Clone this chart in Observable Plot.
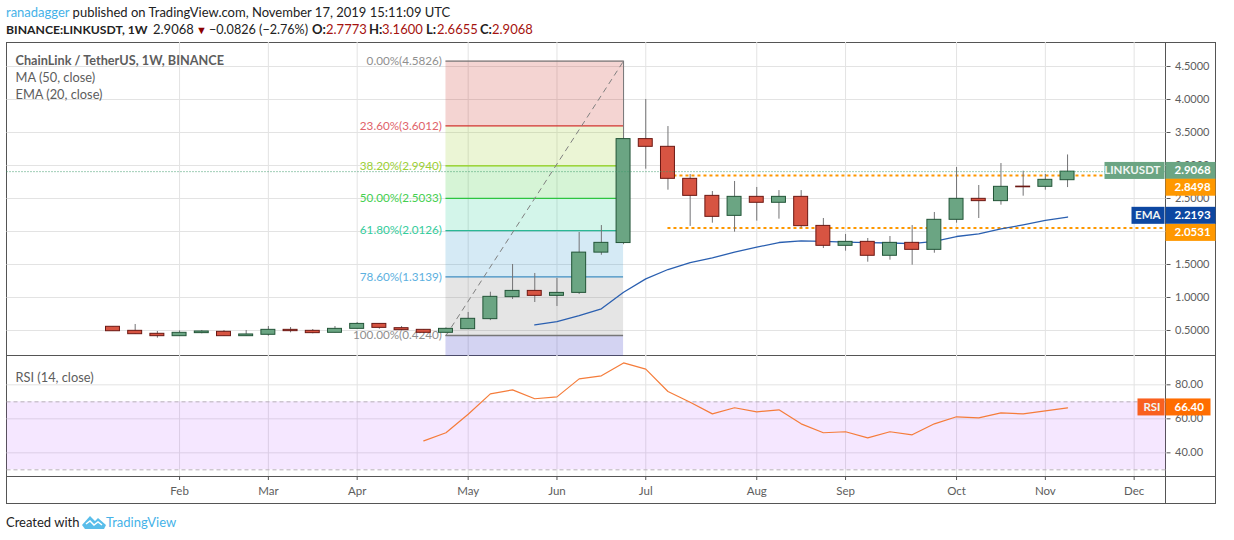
<!DOCTYPE html>
<html>
<head>
<meta charset="utf-8">
<script src="https://cdn.jsdelivr.net/npm/d3@7"></script>
<script src="https://cdn.jsdelivr.net/npm/@observablehq/plot@0.6"></script>
<style>
  html, body { margin: 0; padding: 0; background: #fff; width: 1234px; height: 540px; overflow: hidden; font-family: Lato, sans-serif; }
  #root { position: relative; width: 1234px; height: 540px; }
  .abs { position: absolute; white-space: nowrap; }
  .line { position: absolute; background: #555; }
  svg { background: transparent !important; }
  .hd { font-size: 13px; color: #222; line-height: 17px; }
  .hd2 { position: absolute; top: 21px; font-size: 13px; color: #222; line-height: 17px; white-space: nowrap; }
  .r { color: #a5120e; }
</style>
</head>
<body>
<div id="root">
  <div class="abs hd" style="left:6px;top:4px"><span style="color:#45b2e8">ranadagger</span> published on TradingView.com, November 17, 2019 15:11:09 UTC</div>
  <b class="hd2" style="left:6px;font-size:12.2px">BINANCE:LINKUSDT, 1W</b>
  <span class="hd2" style="left:153px">2.9068</span>
  <span class="hd2" style="left:196px;color:#8b0000;font-size:11px">▼</span>
  <span class="hd2" style="left:209px;font-size:12.6px">−0.0826 (−2.76%)</span>
  <b class="hd2" style="left:312px">O:</b><span class="hd2 r" style="left:326px">2.7773</span>
  <b class="hd2" style="left:369px">H:</b><span class="hd2 r" style="left:382px">3.1600</span>
  <b class="hd2" style="left:426px">L:</b><span class="hd2 r" style="left:437px">2.6655</span>
  <b class="hd2" style="left:480px">C:</b><span class="hd2 r" style="left:492px">2.9068</span>
  <div class="line" style="left:6px;top:42px;width:1210px;height:1px"></div>
  <div class="line" style="left:6px;top:503px;width:1210px;height:1px"></div>
  <div class="line" style="left:6px;top:42px;width:1px;height:462px"></div>
  <div class="line" style="left:1215px;top:42px;width:1px;height:462px"></div>
  <div class="line" style="left:1165px;top:42px;width:1px;height:462px"></div>
  <div class="line" style="left:6px;top:355px;width:1210px;height:1px"></div>
  <div class="line" style="left:6px;top:476px;width:1210px;height:1px"></div>
  <div class="abs" id="top" style="left:0;top:42px"></div>
  <div class="abs" id="bot" style="left:0;top:355px"></div>
  <div class="abs hd" style="left:6px;top:514px">Created with</div>
  <svg class="abs" style="left:82px;top:515px" width="24" height="14" viewBox="0 0 24 14">
    <path d="M0 10 L8 1 L13 6 L16 3 L24 10 L22 14 L3 14 Z" fill="#59bdea"/>
    <path d="M4 9 L8 6 L12 10 L16 7 L20 10" fill="none" stroke="#fff" stroke-width="1.5"/>
  </svg>
  <div class="abs hd" style="left:106px;top:514px;color:#45b2e8">TradingView</div>
</div>
<script>
// ---- data ----
const weeks = ["2019-01-14","2019-01-21","2019-01-28","2019-02-04","2019-02-11","2019-02-18","2019-02-25","2019-03-04","2019-03-11","2019-03-18","2019-03-25","2019-04-01","2019-04-08","2019-04-15","2019-04-22","2019-04-29","2019-05-06","2019-05-13","2019-05-20","2019-05-27","2019-06-03","2019-06-10","2019-06-17","2019-06-24","2019-07-01","2019-07-08","2019-07-15","2019-07-22","2019-07-29","2019-08-05","2019-08-12","2019-08-19","2019-08-26","2019-09-02","2019-09-09","2019-09-16","2019-09-23","2019-09-30","2019-10-07","2019-10-14","2019-10-21","2019-10-28","2019-11-04","2019-11-11"];
const opens = [.556,.495,.45,.414,.46,.48,.414,.435,.51,.495,.465,.525,.60,.535,.51,.465,.52,.672,1.005,1.10,1.025,1.07,1.68,1.825,3.40,3.283,2.798,2.54,2.237,2.525,2.435,2.525,2.085,1.783,1.843,1.632,1.828,1.722,2.177,2.495,2.46,2.68,2.677,2.7773];
const closes = [.489,.444,.414,.465,.485,.414,.44,.51,.49,.46,.525,.60,.54,.505,.465,.525,.677,1.01,1.10,1.025,1.07,1.68,1.828,3.40,3.283,2.798,2.54,2.222,2.525,2.435,2.525,2.081,1.783,1.843,1.632,1.828,1.722,2.177,2.495,2.46,2.677,2.67,2.783,2.9068];
const highs = [.556,.591,.485,.495,.5,.5,.5,.56,.545,.515,.56,.62,.60,.56,.515,.54,.773,1.08,1.5,1.364,1.288,1.985,2.09,4.5826,4.0,3.59,2.864,2.606,2.758,2.667,2.62,2.62,2.197,1.955,1.894,1.924,2.09,2.288,2.97,2.697,3.03,2.914,2.864,3.16];
const lows = [.489,.44,.384,.41,.45,.41,.41,.414,.465,.45,.465,.525,.52,.5,.46,.46,.52,.65,.97,.924,.864,1.045,1.64,1.80,2.944,2.626,2.076,2.126,1.99,2.157,2.187,2.05,1.742,1.702,1.535,1.566,1.49,1.671,2.126,2.197,2.399,2.535,2.626,2.6655];
const emaValues = [.586,.636,.727,.828,1.08,1.283,1.424,1.53,1.60,1.687,1.763,1.833,1.859,1.849,1.84,1.83,1.826,1.815,1.85,1.924,1.965,2.04,2.10,2.167,2.2193];
const rsiValues = [47.06,51.8,62.7,74.7,77.06,71.8,72.9,83.5,85.3,92.9,89.2,76.1,69.8,62.9,66.5,64.1,65.3,57.06,51.8,52.4,48.8,52.4,50.6,57.06,61.2,60.6,63.5,62.9,64.7,66.4];
const fibLabels = ["0.00%(4.5826)","23.60%(3.6012)","38.20%(2.9940)","50.00%(2.5033)","61.80%(2.0126)","78.60%(1.3139)","100.00%(0.4240)"];
const fibLevels = [4.5826,3.6012,2.994,2.5033,2.0126,1.3139,.424];
const fibColors = ["#777777","#d32f2f","#8fd014","#2fc43f","#2bb795","#3d8fc4","#777777"];
const fibTextColors = ["#8f8f8f","#e0626a","#9ccf35","#45cf50","#35cc9c","#5cb0e0","#8f8f8f"];
const bandColors = ["#c8281e","#9bcd2d","#32c832","#23cd96","#2d96cd","#7d7d7d","#2323be"];
const priceTicks = [.5,1,1.5,2,2.5,3,3.5,4,4.5];
const rsiTicks = [40,60,80];
const monthTicks = ["2019-02-04","2019-03-04","2019-04-01","2019-05-06","2019-06-03","2019-07-01","2019-08-05","2019-09-02","2019-10-07","2019-11-04","2019-12-02"].map(d => new Date(d));
const supportLevels = [2.8498, 2.0531];
const lastPrice = 2.9068, emaLast = 2.2193, rsiLast = 66.40;

// ---- derived tables ----
const xDomain = [new Date(Date.UTC(2018,11,11,14)), new Date(Date.UTC(2019,11,12,1))];
const DAY = 864e5;
const candles = weeks.map((w,i) => ({date:new Date(w),open:opens[i],close:closes[i],high:highs[i],low:lows[i],up:closes[i]>=opens[i]}));
const ema = emaValues.map((v,i) => ({date:new Date(weeks[i+19]),v}));
const rsi = rsiValues.map((v,i) => ({date:new Date(weeks[i+14]),v}));
const fibStart = new Date("2019-04-29"), fibEnd = new Date("2019-06-24");
const fib = fibLevels.map((v,i) => ({v,label:fibLabels[i],color:fibColors[i],text:fibTextColors[i]}));
const bands = bandColors.map((c,i) => ({top:fibLevels[i],bottom:i<6?fibLevels[i+1]:0.106,c}));
const supportStart = new Date("2019-07-08");

const grid = "#e3e3e3", axisText = "#5d5d5d", fontF = "Lato, sans-serif";
const base = {width:1234, marginLeft:6.5, marginRight:68.5, style:{fontFamily:fontF, fontSize:"12px", background:"transparent", overflow:"visible"}};

// value tag in the right-hand column, anchored on the y scale
const tag = (value, text, color, dy, o = {}) => (index, {y}, v, {width, marginRight}) => {
  const g = d3.create("svg:g");
  const x0 = width - marginRight, cy = y(value) + dy;
  const w = o.w ?? 50;
  g.append("rect").attr("x",x0).attr("y",cy-8.5).attr("width",w).attr("height",17).attr("fill",color);
  g.append("text").attr("x",x0+9).attr("y",cy+4).attr("text-anchor","start").attr("fill","#fff").attr("font-size","11.5px").attr("font-weight","bold").text(text);
  if (o.label) {
    const lw = o.lw;
    g.append("rect").attr("x",x0-lw-1).attr("y",cy-8.5).attr("width",lw).attr("height",17).attr("fill",o.labelColor ?? color);
    g.append("text").attr("x",x0-5).attr("y",cy+4).attr("text-anchor","end").attr("fill","#f0f5f2").attr("font-size","11.5px").attr("font-weight","bold").text(o.label);
  }
  return g.node();
};

const priceChart = Plot.plot({
  ...base, height:314, marginTop:0, marginBottom:0,
  x:{type:"utc", domain:xDomain, axis:null},
  y:{domain:[.10606,4.8636], range:[314,0], axis:null},
  marks:[
    Plot.ruleX(monthTicks,{stroke:grid}),
    Plot.ruleY(priceTicks,{stroke:grid}),
    Plot.rect(bands,{x1:()=>fibStart,x2:()=>fibEnd,y1:"bottom",y2:"top",fill:"c",fillOpacity:.2}),
    Plot.ruleY(fib,{y:"v",x1:()=>fibStart,x2:()=>fibEnd,stroke:"color",strokeWidth:1.3}),
    Plot.text(fib,{x:()=>fibStart,y:"v",text:"label",fill:"text",textAnchor:"end",dx:-4,fontSize:11.7}),
    Plot.line([{d:fibStart,v:fibLevels[6]},{d:fibEnd,v:fibLevels[0]}],{x:"d",y:"v",stroke:"#808080",strokeDasharray:"5,5",strokeWidth:1}),
    Plot.ruleY(supportLevels,{x1:()=>supportStart,x2:()=>xDomain[1],stroke:"#ff9800",strokeWidth:2,strokeDasharray:"3,3"}),
    Plot.line(ema,{x:"date",y:"v",stroke:"#2a5fb0",strokeWidth:1.3}),
    Plot.ruleX(candles,{x:"date",y1:"low",y2:"high",stroke:"#737375"}),
    Plot.rect(candles,{x1:d=>new Date(+d.date-2.2*DAY),x2:d=>new Date(+d.date+2.2*DAY),y1:"open",y2:"close",
      fill:d=>d.up?"#6ba583":"#d75442",stroke:d=>d.up?"#225437":"#6b1813",strokeWidth:1}),
    Plot.ruleY([lastPrice],{x1:()=>xDomain[0],x2:()=>xDomain[1],stroke:"#3f9a6c",strokeDasharray:"1,2"}),
    Plot.axisY(priceTicks,{anchor:"right",tickSize:4,tickPadding:5,tickFormat:".4f",fill:axisText,stroke:"#555",label:null,fontSize:11}),
    Plot.text(["ChainLink / TetherUS, 1W, BINANCE"],{frameAnchor:"top-left",dx:8.5,dy:13,fill:axisText,fontWeight:"bold",fontSize:12.7}),
    Plot.text(["MA (50, close)"],{frameAnchor:"top-left",dx:8.5,dy:30,fill:axisText,fontSize:12.8}),
    Plot.text(["EMA (20, close)"],{frameAnchor:"top-left",dx:8.5,dy:47,fill:axisText,fontSize:12.8}),
    tag(lastPrice,"2.9068","#6ba583",-0.7,{label:"LINKUSDT",lw:60}),
    tag(supportLevels[0],"2.8498","#ff9800",12.3),
    tag(emaLast,"2.2193","#0d47a1",-1.2,{label:"EMA",lw:33}),
    tag(supportLevels[1],"2.0531","#ff9800",4.9)
  ]
});
document.getElementById("top").append(priceChart);

const rsiChart = Plot.plot({
  ...base, height:148, marginTop:0, marginBottom:27,
  x:{type:"utc", domain:xDomain, axis:null},
  y:{domain:[26.08,97.25], range:[121,0], axis:null},
  marks:[
    Plot.ruleX(monthTicks,{stroke:grid}),
    Plot.ruleY(rsiTicks,{stroke:grid}),
    Plot.rect([{a:30,b:70}],{x1:()=>xDomain[0],x2:()=>xDomain[1],y1:"a",y2:"b",fill:"#9915ff",fillOpacity:.1}),
    Plot.ruleY([30,70],{stroke:"#b8b0b8",strokeDasharray:"4,3"}),
    Plot.line(rsi,{x:"date",y:"v",stroke:"#f57c3a",strokeWidth:1.2}),
    Plot.axisX(monthTicks,{anchor:"bottom",tickSize:4,tickPadding:6,tickFormat:d3.utcFormat("%b"),fill:axisText,stroke:"#555",label:null,fontSize:11.5}),
    Plot.axisY(rsiTicks,{anchor:"right",tickSize:4,tickPadding:5,tickFormat:".2f",fill:axisText,stroke:"#555",label:null,fontSize:11}),
    Plot.text(["RSI (14, close)"],{frameAnchor:"top-left",dx:8.5,dy:17,fill:axisText,fontSize:12.8}),
    tag(rsiLast,"66.40","#ff6d00",-0.5,{w:45,label:"RSI",lw:27,labelColor:"#f9601f"})
  ]
});
document.getElementById("bot").append(rsiChart);
</script>
</body>
</html>
